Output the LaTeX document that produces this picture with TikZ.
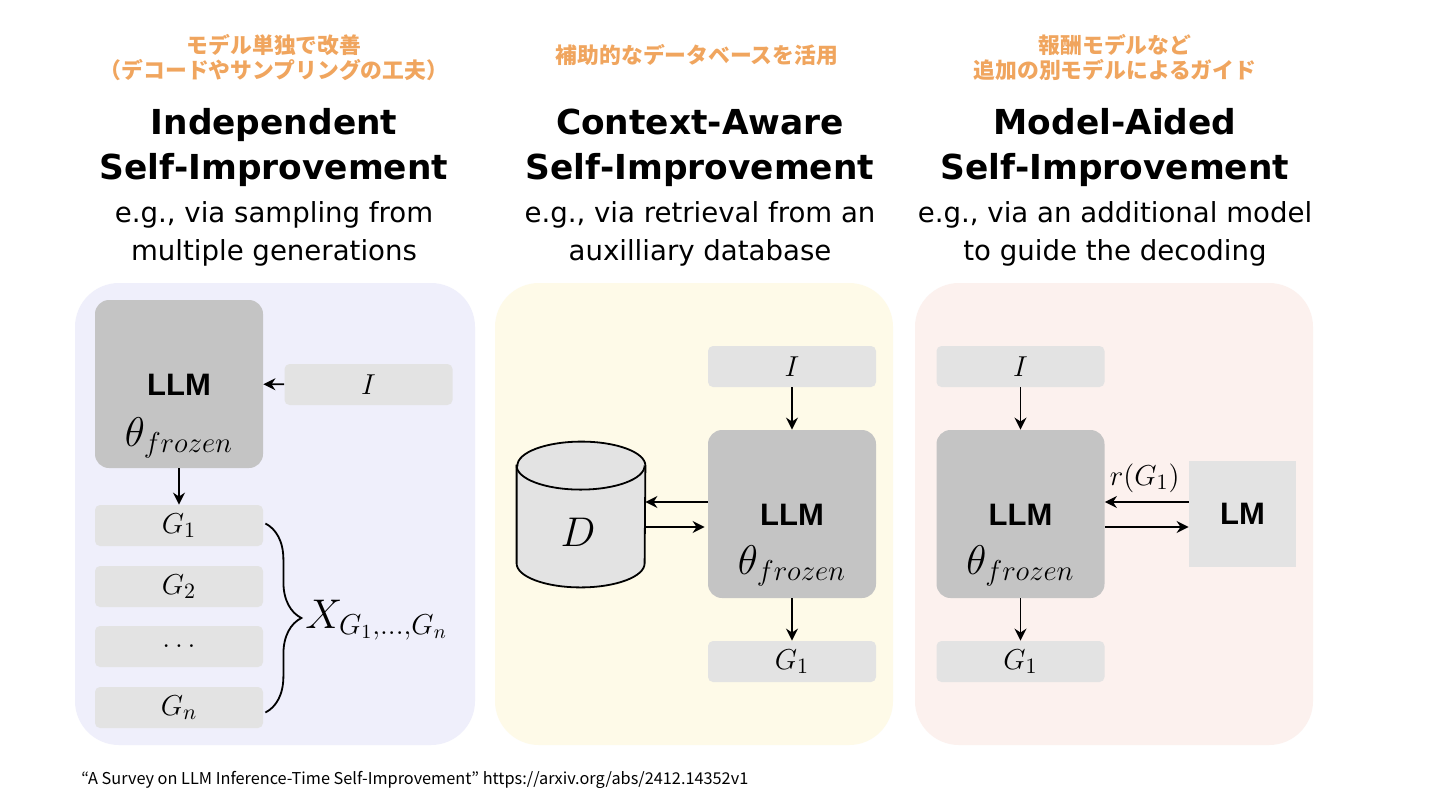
\documentclass[tikz,border=0pt]{standalone}
\usepackage{fontspec}
\setmainfont{DejaVu Sans}
\newfontfamily\jpfont{Noto Sans CJK JP}
\newfontfamily\boxfont{Liberation Sans}
\usetikzlibrary{arrows.meta,positioning,calc,decorations.pathreplacing}

\definecolor{panelA}{HTML}{EFEFFB}
\definecolor{panelB}{HTML}{FEFAE8}
\definecolor{panelC}{HTML}{FCF1EE}
\definecolor{llmgray}{HTML}{C4C4C4}
\definecolor{boxgray}{HTML}{E3E3E3}
\definecolor{jporange}{HTML}{F0A55E}

\tikzset{
  panel/.style={fill=#1, draw=none, rounded corners=22pt},
  llmbox/.style={fill=llmgray, rounded corners=7pt, minimum width=84pt,
    minimum height=84pt, inner sep=0pt},
  iobox/.style={fill=boxgray, rounded corners=2.5pt, minimum width=84pt,
    minimum height=20.5pt, inner sep=0pt, font=\fontsize{15}{16}\selectfont},
  lmbox/.style={fill=boxgray, minimum width=53.5pt, minimum height=53pt, inner sep=0pt,
    font=\boxfont\bfseries\fontsize{15.5}{17}\selectfont},
  dbnode/.style={minimum width=64pt, minimum height=72.5pt, inner sep=0pt},
  flow/.style={-{Stealth[length=6pt,width=6pt]}, line width=0.95pt},
  jptitle/.style={font=\jpfont\bfseries\fontsize{10.9}{13}\selectfont, text=jporange,
    anchor=base},
  maintitle/.style={font=\bfseries\fontsize{17.2}{20}\selectfont, anchor=base},
  subtitle/.style={font=\fontsize{13.8}{16}\selectfont, anchor=base},
  llmname/.style={font=\boxfont\bfseries\fontsize{15.5}{17}\selectfont, inner sep=0pt},
  llmparam/.style={font=\fontsize{20.5}{22}\selectfont, inner sep=0pt, anchor=base},
}

\begin{document}
\begin{tikzpicture}[x=0.5pt, y=-0.5pt]
  \fill[white] (0,0) rectangle (1440,810);
  \useasboundingbox (0,0) rectangle (1440,810);

  %%%%%%%%%%%%%%%%%%%%%%%%%%%%%%%%%%%%%%%%%%%%%%%%%%%%%%%%%%%%%%%%%%%%%%%%%%%
  %%%%  Headings
  \node[jptitle] (jpA1) at (274,53) {モデル単独で改善};
  \node[jptitle] (jpA2) at (274,78) {（デコードやサンプリングの工夫）};
  \node[jptitle] (jpB1) at (697,63) {補助的なデータベースを活用};
  \node[jptitle] (jpC1) at (1115,53) {報酬モデルなど};
  \node[jptitle] (jpC2) at (1115,78) {追加の別モデルによるガイド};

  \foreach \cx/\la/\lb/\sa/\sb/\nm in
    {274/Independent/Self-Improvement/{e.g., via sampling from}/{multiple generations}/A,
     700/Context-Aware/Self-Improvement/{e.g., via retrieval from an}/{auxilliary database}/B,
     1115/Model-Aided/Self-Improvement/{e.g., via an additional model}/{to guide the decoding}/C}
  {\node[maintitle] (head\nm1) at (\cx,134) {\la};
   \node[maintitle] (head\nm2) at (\cx,179) {\lb};
   \node[subtitle] (sub\nm1) at (\cx,222) {\sa};
   \node[subtitle] (sub\nm2) at (\cx,260) {\sb};
  };

  %%%%%%%%%%%%%%%%%%%%%%%%%%%%%%%%%%%%%%%%%%%%%%%%%%%%%%%%%%%%%%%%%%%%%%%%%%%
  %%%%  Panels
  \fill[panel=panelA] (75,283) rectangle (475,745);
  \fill[panel=panelB] (495,283) rectangle (893,745);
  \fill[panel=panelC] (915,283) rectangle (1313,745);

  %%%%%%%%%%%%%%%%%%%%%%%%%%%%%%%%%%%%%%%%%%%%%%%%%%%%%%%%%%%%%%%%%%%%%%%%%%%
  %%%%  Independent
  \node[llmbox] (llmA) at (179,384) {};
  \node[llmname] (llmAname) at ($(llmA.center)+(0,1)$) {LLM};
  \node[llmparam] (llmAparam) at ($(llmA.center)+(0,62)$) {$\theta_{frozen}$};
  \node[iobox] (inA) at (368.5,384.5) {$I$};
  \draw[flow] (inA) -- (llmA);

  \foreach \k/\txt/\yy in {1/$G_1$/525.5, 2/$G_2$/586.5, 3/$\ldots$/646.5, 4/$G_n$/707.5}
   {\node[iobox] (genA\k) at (179,\yy) {\txt};};
  \draw[flow] (llmA) -- (genA1);

  \draw[decorate, decoration={brace, amplitude=18pt}, line width=0.9pt]
    ($(genA1.east)+(2,-2)$) -- ($(genA4.east)+(2,5)$);
  \node[anchor=base west, inner sep=0pt, font=\fontsize{20}{22}\selectfont] (xset) at (305,628)
    {$X_{G_1,\ldots,G_n}$};

  %%%%%%%%%%%%%%%%%%%%%%%%%%%%%%%%%%%%%%%%%%%%%%%%%%%%%%%%%%%%%%%%%%%%%%%%%%%
  %%%%  Context-Aware
  \node[iobox] (inB) at (792,366.5) {$I$};
  \node[llmbox] (llmB) at (792,514) {};
  \node[llmname] (llmBname) at ($(llmB.center)+(0,1)$) {LLM};
  \node[llmparam] (llmBparam) at ($(llmB.center)+(0,60)$) {$\theta_{frozen}$};
  \node[iobox] (outB) at (792,661.5) {$G_1$};
  \draw[flow] (inB) -- (llmB);
  \draw[flow] (llmB) -- (outB);

  \node[dbnode] (db) at (581,514.5) {};
  \draw[fill=boxgray, line width=0.9pt] ($(db.north west)+(0,24)$) -- ($(db.south west)+(0,-24)$)
    arc (180:360:32pt and 12pt) -- ($(db.north east)+(0,24)$)
    arc (0:180:32pt and 12pt) -- cycle;
  \draw[line width=0.9pt] ($(db.north west)+(0,24)$) arc (180:360:32pt and 12pt);
  \node[font=\fontsize{21.5}{22}\selectfont] (dbname) at ($(db.center)+(-3,18)$) {$D$};

  \draw[flow] ($(llmB.west)+(0,-12)$) -- ($(db.east)+(0,-12.5)$);
  \draw[flow] ($(db.east)+(0,12.5)$) -- ($(llmB.west)+(-3,13)$);

  %%%%%%%%%%%%%%%%%%%%%%%%%%%%%%%%%%%%%%%%%%%%%%%%%%%%%%%%%%%%%%%%%%%%%%%%%%%
  %%%%  Model-Aided
  \node[iobox] (inC) at (1020.5,366.5) {$I$};
  \node[llmbox] (llmC) at (1020.5,514) {};
  \node[llmname] (llmCname) at ($(llmC.center)+(0,1)$) {LLM};
  \node[llmparam] (llmCparam) at ($(llmC.center)+(0,60)$) {$\theta_{frozen}$};
  \node[iobox] (outC) at (1020.5,661.5) {$G_1$};
  \draw[flow] (inC) -- (llmC);
  \draw[flow] (llmC) -- (outC);

  \node[lmbox] (lm) at (1242.5,514) {LM};
  \draw[flow] ($(lm.west)+(0,-12)$) -- ($(llmC.east)+(0,-12)$)
    node[midway, above=1pt, xshift=-1pt, font=\fontsize{15}{16}\selectfont] (reward) {$r(G_1)$};
  \draw[flow] ($(llmC.east)+(0,13)$) -- ($(lm.west)+(0,13)$);

  %%%%%%%%%%%%%%%%%%%%%%%%%%%%%%%%%%%%%%%%%%%%%%%%%%%%%%%%%%%%%%%%%%%%%%%%%%%
  %%%%  Source
  \node[anchor=base west, inner sep=0pt, font=\jpfont\fontsize{8.15}{10}\selectfont] (source) at (81,784)
    {“A Survey on LLM Inference-Time Self-Improvement” https://arxiv.org/abs/2412.14352v1};
\end{tikzpicture}
\end{document}
